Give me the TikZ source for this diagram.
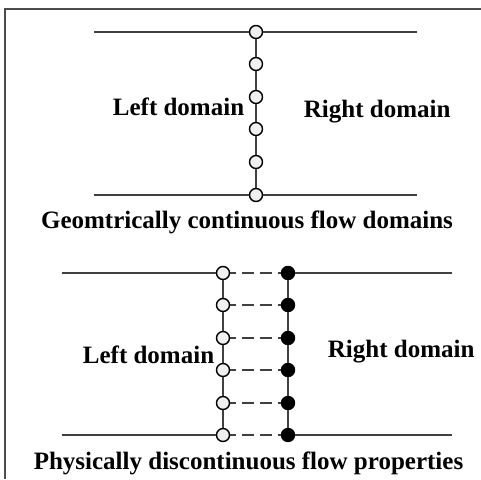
\documentclass[tikz,border=0pt]{standalone}
\usepackage{fontspec}
\setmainfont{Liberation Serif}
\begin{document}
\begin{tikzpicture}[x=1pt,y=-1pt,line width=1.8pt,
  opendot/.style={circle,draw=black,fill=white!94!black,line width=1.4pt,inner sep=0pt,minimum size=13pt},
  fulldot/.style={circle,draw=black,fill=black,line width=1.4pt,inner sep=0pt,minimum size=13pt},
  lbl/.style={font=\bfseries\fontsize{25}{28}\selectfont,inner sep=0pt},
  gap/.style={dash pattern=on 12pt off 6pt,dash phase=6pt}]
  \useasboundingbox (0,0) rectangle (481,479);
  \draw[black!70,line width=1.8pt] (5,479) -- (5,9) -- (481,9);
  % continuous interface
  \foreach \y [count=\i from 0] in {32,64,97,129,162,195}
    \node[opendot] (c\i) at (256,\y) {};
  \foreach \i [count=\j from 1] in {0,...,4}
    \draw[black!75] (c\i) -- (c\j);
  \coordinate (ctl) at (94,32);  \coordinate (ctr) at (417,32);
  \coordinate (cbl) at (94,195); \coordinate (cbr) at (417,195);
  \draw[black!75] (ctl) -- (c0) (c0) -- (ctr);
  \draw[black!75] (cbl) -- (c5) (c5) -- (cbr);
  \node[lbl,anchor=base west] (cleft) at (112,115) {Left domain};
  \node[lbl,anchor=base west] (cright) at (303,117) {Right domain};
  \node[lbl,anchor=base] (ccap) at (247,228) {Geomtrically continuous flow domains};
  % discontinuous interface
  \foreach \y [count=\i from 0] in {273,305,338,370,403,435} {
    \node[opendot] (l\i) at (223,\y) {};
    \node[fulldot] (r\i) at (288,\y) {};
    \draw[black!75,gap] (l\i) -- (r\i);
  }
  \foreach \i [count=\j from 1] in {0,...,4} {
    \draw[black!75] (l\i) -- (l\j);
    \draw[black!75] (r\i) -- (r\j);
  }
  \coordinate (dtl) at (62,273);  \coordinate (dtr) at (452,273);
  \coordinate (dbl) at (62,435);  \coordinate (dbr) at (452,435);
  \draw[black!75] (dtl) -- (l0) (r0) -- (dtr);
  \draw[black!75] (dbl) -- (l5) (r5) -- (dbr);
  \node[lbl,anchor=base west] (dleft) at (82,363) {Left domain};
  \node[lbl,anchor=base west] (dright) at (327,357) {Right domain};
  \node[lbl,anchor=base] (dcap) at (248.5,469) {Physically discontinuous flow properties};
\end{tikzpicture}
\end{document}
